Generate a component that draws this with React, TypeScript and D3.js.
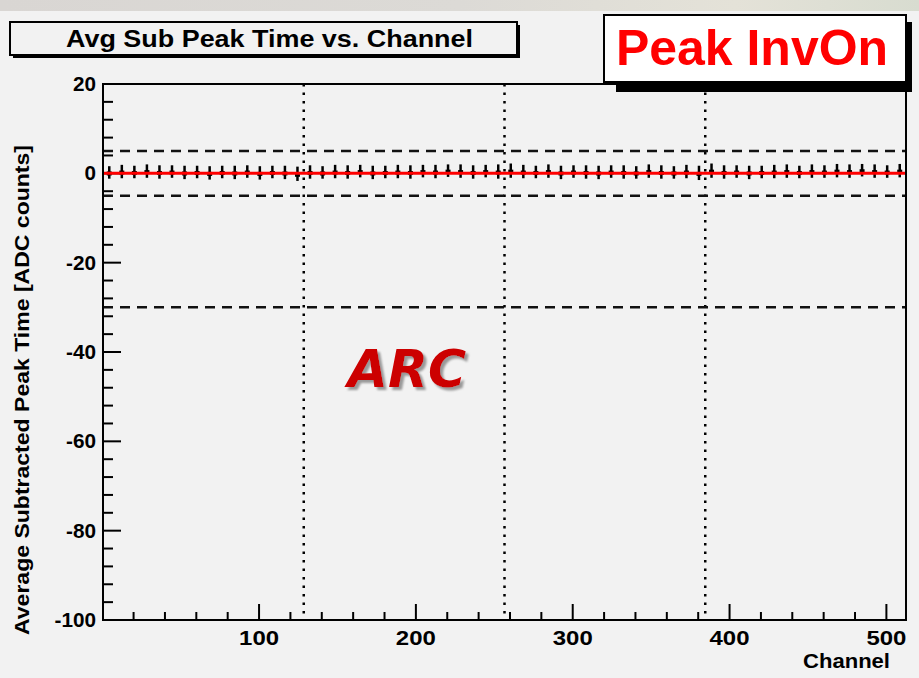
import React from "react";
import * as d3 from "d3";

const channels = [4.5,12.5,20.5,28.5,36.5,44.5,52.5,60.5,68.5,76.5,84.5,92.5,100.5,108.5,116.5,124.5,132.5,140.5,148.5,156.5,164.5,172.5,180.5,188.5,196.5,204.5,212.5,220.5,228.5,236.5,244.5,252.5,260.5,268.5,276.5,284.5,292.5,300.5,308.5,316.5,324.5,332.5,340.5,348.5,356.5,364.5,372.5,380.5,388.5,396.5,404.5,412.5,420.5,428.5,436.5,444.5,452.5,460.5,468.5,476.5,484.5,492.5,500.5,508.5];
const values = [0.2,0.4,0.3,0.5,0.3,0.4,0.2,0.3,0.1,0.3,0.2,0.4,0.1,0.3,0.2,-0.1,0.3,0.2,0.4,0.3,0.5,0.2,0.3,0.4,0.3,0.5,0.4,0.6,0.5,0.3,0.5,0.4,0.6,0.4,0.3,0.5,0.2,0.4,0.3,0.2,0.4,0.3,0.2,0.5,0.3,0.2,0.4,0.1,0.6,0.3,0.4,0.2,0.3,0.4,0.5,0.3,0.5,0.4,0.6,0.5,0.7,0.5,0.4,0.6];
const errors = [1.4,1.5,1.4,1.5,1.5,1.4,1.5,1.4,1.5,1.4,1.5,1.4,1.5,1.4,1.5,1.6,1.5,1.4,1.5,1.5,1.4,1.5,1.4,1.5,1.5,1.4,1.5,1.4,1.5,1.5,1.4,1.6,1.6,1.5,1.4,1.5,1.5,1.4,1.5,1.5,1.4,1.5,1.4,1.5,1.5,1.4,1.5,1.6,1.6,1.5,1.4,1.5,1.4,1.5,1.5,1.4,1.5,1.4,1.5,1.5,1.4,1.5,1.4,1.5];
const yMajorTicks = [20, 0, -20, -40, -60, -80, -100];
const xMajorTicks = [100, 200, 300, 400, 500];
const dashedLevels = [5, -5, -30];
const dottedChannels = [128.5, 256.5, 384.5];
const fitLevel = 0;

const W = 919, H = 678;
const L = 103, R = 906, T = 84, B = 620;

export default function App() {
  const x = d3.scaleLinear().domain([0.5, 512.5]).range([L, R]);
  const y = d3.scaleLinear().domain([-100, 20]).range([B, T]);
  const yMinor = d3.range(-100, 20.001, 4);
  const xMinor = d3.range(20, 512, 20);
  const font = "Liberation Sans, Arial, Helvetica, sans-serif";
  const digitW = 11.5;
  return (
    <div style={{ position: "absolute", left: 0, top: 0 }}>
      <svg width={W} height={H} style={{ display: "block" }}>
        <defs>
          <linearGradient id="topband" x1="0" x2="1" y1="0" y2="0">
            <stop offset="0" stopColor="#d9d6d3" />
            <stop offset="0.5" stopColor="#dcdad6" />
            <stop offset="0.8" stopColor="#e4e2d8" />
            <stop offset="1" stopColor="#d8dcd0" />
          </linearGradient>
          <filter id="arcShadow" x="-10%" y="-20%" width="130%" height="150%">
            <feDropShadow dx="3" dy="3" stdDeviation="0.8" floodColor="#999999" floodOpacity="1" />
          </filter>
        </defs>
        <rect x={0} y={0} width={W} height={H} fill="#f2f2f2" />
        <rect x={0} y={0} width={W} height={11} fill="url(#topband)" />
        {/* Title box */}
        <rect x={13} y={25} width={507} height={33} fill="#000" />
        <rect x={10} y={22} width={507} height={33} fill="#f2f2f2" stroke="#000" strokeWidth={2} />
        <text x={66} y={47} textLength={407} lengthAdjust="spacingAndGlyphs" fontFamily={font} fontWeight="bold" fontSize={23} fill="#000">Avg Sub Peak Time vs. Channel</text>
        {/* plot frame */}
        <rect x={L} y={T} width={R - L} height={B - T} fill="#f2f2f2" stroke="#000" strokeWidth={2} />
        {/* dotted verticals */}
        {dottedChannels.map((c, i) => (
          <line key={"dv" + i} x1={x(c)} x2={x(c)} y1={T} y2={B} stroke="#000" strokeWidth={2.5} strokeDasharray="2.5 6" />
        ))}
        {/* dashed horizontals */}
        {dashedLevels.map((v, i) => (
          <line key={"dh" + i} x1={L} x2={R} y1={y(v)} y2={y(v)} stroke="#111" strokeWidth={2.5} strokeDasharray="10 7" />
        ))}
        {/* y ticks */}
        {yMinor.map((v, i) => {
          const major = yMajorTicks.includes(Math.round(v));
          return <line key={"yt" + i} x1={L} x2={L + (major ? 18 : 10)} y1={y(v)} y2={y(v)} stroke="#000" strokeWidth={2} />;
        })}
        {/* x ticks */}
        {xMinor.map((v, i) => {
          const major = xMajorTicks.includes(v);
          return <line key={"xt" + i} x1={x(v)} x2={x(v)} y1={B} y2={B - (major ? 16 : 8)} stroke="#000" strokeWidth={2} />;
        })}
        {/* data points */}
        {channels.map((c, i) => (
          <g key={"p" + i}>
            <line x1={x(c)} x2={x(c)} y1={y(values[i] + errors[i])} y2={y(values[i] - errors[i])} stroke="#000" strokeWidth={2.5} />
            <rect x={x(c) - 2.5} y={y(values[i]) - 1} width={5} height={4} fill="#000" />
          </g>
        ))}
        {/* fit line */}
        <line x1={L} x2={R} y1={y(fitLevel)} y2={y(fitLevel)} stroke="#ff0000" strokeWidth={3} />
        <rect x={L} y={T} width={R - L} height={B - T} fill="none" stroke="#000" strokeWidth={2} />
        {/* y tick labels */}
        {yMajorTicks.map((v, i) => {
          const s = String(v);
          const w = s.split("").reduce((a, ch) => a + (ch === "-" ? 7 : digitW), 0);
          return (
            <text key={"yl" + i} x={96 - w} y={y(v) + 7} textLength={w} lengthAdjust="spacingAndGlyphs" fontFamily={font} fontWeight="bold" fontSize={21} fill="#000">{s}</text>
          );
        })}
        {xMajorTicks.map((v, i) => (
          <text key={"xl" + i} x={x(v) - 20} y={645} textLength={40} lengthAdjust="spacingAndGlyphs" fontFamily={font} fontWeight="bold" fontSize={21} fill="#000">{v}</text>
        ))}
        <text x={803} y={668} textLength={87} lengthAdjust="spacingAndGlyphs" fontFamily={font} fontWeight="bold" fontSize={21} fill="#000">Channel</text>
        <text transform="translate(29,390) rotate(-90)" x={-245} y={0} textLength={490} lengthAdjust="spacingAndGlyphs" fontFamily={font} fontWeight="bold" fontSize={20} fill="#000">Average Subtracted Peak Time [ADC counts]</text>
        {/* Peak InvOn box */}
        <rect x={616} y={22} width={296} height={70} fill="#000" />
        <rect x={604} y={15} width={302} height={67} fill="#ffffff" stroke="#000" strokeWidth={2} />
        <text x={616} y={65} textLength={272} lengthAdjust="spacingAndGlyphs" fontFamily={font} fontWeight="bold" fontSize={50} fill="#ff0000">Peak InvOn</text>
        {/* ARC */}
        <text x={407} y={387} textAnchor="middle" filter="url(#arcShadow)" fontFamily="DejaVu Sans, sans-serif" fontWeight="bold" fontStyle="italic" fontSize={52} fill="#cc0000">ARC</text>
      </svg>
    </div>
  );
}
